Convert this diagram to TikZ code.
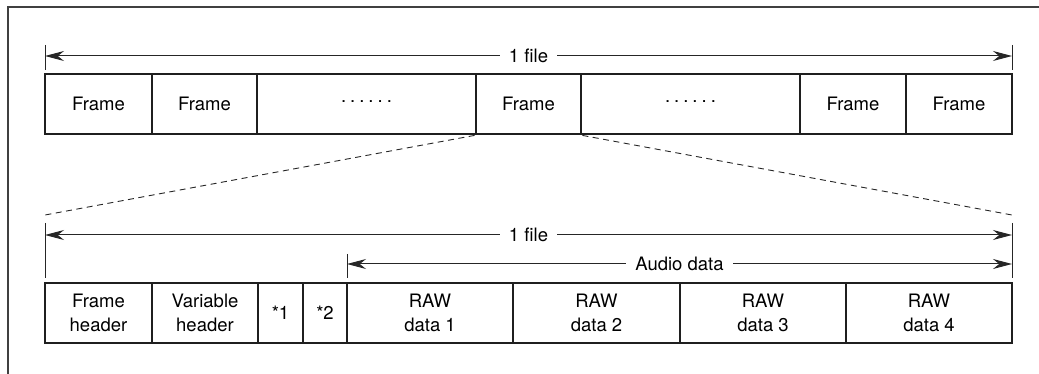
\documentclass[tikz,border=0pt]{standalone}
\usepackage{fontspec}
\setmainfont{TeX Gyre Heros}
\usetikzlibrary{arrows.meta}
\newcommand{\mydots}{\raisebox{0.28em}{.\kern4pt.\kern4pt.\kern4pt.\kern4pt.\kern4pt.}}
\begin{document}
\begin{tikzpicture}[x=1pt,y=-1pt,
  cell/.style={draw=black!88,line width=2.8pt,minimum height=60pt,inner sep=0pt,
    font=\fontsize{18.5}{24}\selectfont,align=center},
  dimline/.style={line width=1pt,draw=black!85,{Stealth[length=19pt,width=10pt]}-{Stealth[length=19pt,width=10pt]}},
  tick/.style={line width=0.9pt,draw=black!85},
  lbl/.style={fill=white,inner xsep=9pt,inner ysep=3pt,font=\fontsize{18.5}{20}\selectfont},
  zoomline/.style={line width=0.9pt,draw=black!85,dash pattern=on 6pt off 4.5pt}]
\useasboundingbox (0,0) rectangle (1039,374);
% outer border
\draw[line width=1.4pt,draw=black!75] (1045,7) -- (8,7) -- (8,380);
% top row
\node[cell,minimum width=107pt] (t1) at (98.5,104) {Frame};
\node[cell,minimum width=105pt] (t2) at (204.5,104) {Frame};
\node[cell,minimum width=219pt] (t3) at (366.5,104) {\mydots};
\node[cell,minimum width=105pt] (t4) at (528.5,104) {Frame};
\node[cell,minimum width=219pt] (t5) at (690.5,104) {\mydots};
\node[cell,minimum width=106pt] (t6) at (853,104) {Frame};
\node[cell,minimum width=106pt] (t7) at (959,104) {Frame};
% top dimension
\coordinate (ta1) at (45,45); \coordinate (ta2) at (45,70);
\coordinate (tb1) at (1012,45); \coordinate (tb2) at (1012,70);
\draw[tick] (ta1) -- (ta2);
\draw[tick] (tb1) -- (tb2);
\coordinate (tl) at (45,56); \coordinate (tr) at (1012,56);
\draw[dimline] (tl) -- (tr);
\node[lbl] (tfile) at (528.5,56) {1 file};
% zoom lines
\coordinate (zl) at (45,215); \coordinate (zr) at (1012,215);
\draw[zoomline] (t4.south west) -- (zl);
\draw[zoomline] (t4.south east) -- (zr);
% bottom row
\node[cell,minimum width=107pt] (b1) at (98.5,313) {Frame\\header};
\node[cell,minimum width=106pt] (b2) at (205,313) {Variable\\header};
\node[cell,minimum width=45pt] (b3) at (280.5,313) {*1};
\node[cell,minimum width=44pt] (b4) at (325,313) {*2};
\node[cell,minimum width=166pt] (b5) at (430,313) {RAW\\data 1};
\node[cell,minimum width=167pt] (b6) at (596.5,313) {RAW\\data 2};
\node[cell,minimum width=166pt] (b7) at (763,313) {RAW\\data 3};
\node[cell,minimum width=166pt] (b8) at (929,313) {RAW\\data 4};
% bottom dimensions
\coordinate (ba1) at (45,223); \coordinate (ba2) at (45,278);
\coordinate (bb1) at (1012,223); \coordinate (bb2) at (1012,278);
\coordinate (bc1) at (347,254); \coordinate (bc2) at (347,278);
\draw[tick] (ba1) -- (ba2);
\draw[tick] (bb1) -- (bb2);
\draw[tick] (bc1) -- (bc2);
\coordinate (bl) at (45,235); \coordinate (br) at (1012,235);
\draw[dimline] (bl) -- (br);
\node[lbl] (bfile) at (528.5,235) {1 file};
\coordinate (al) at (347,264); \coordinate (ar) at (1012,264);
\draw[dimline] (al) -- (ar);
\node[lbl] (audio) at (679.5,264) {Audio data};
\end{tikzpicture}
\end{document}
